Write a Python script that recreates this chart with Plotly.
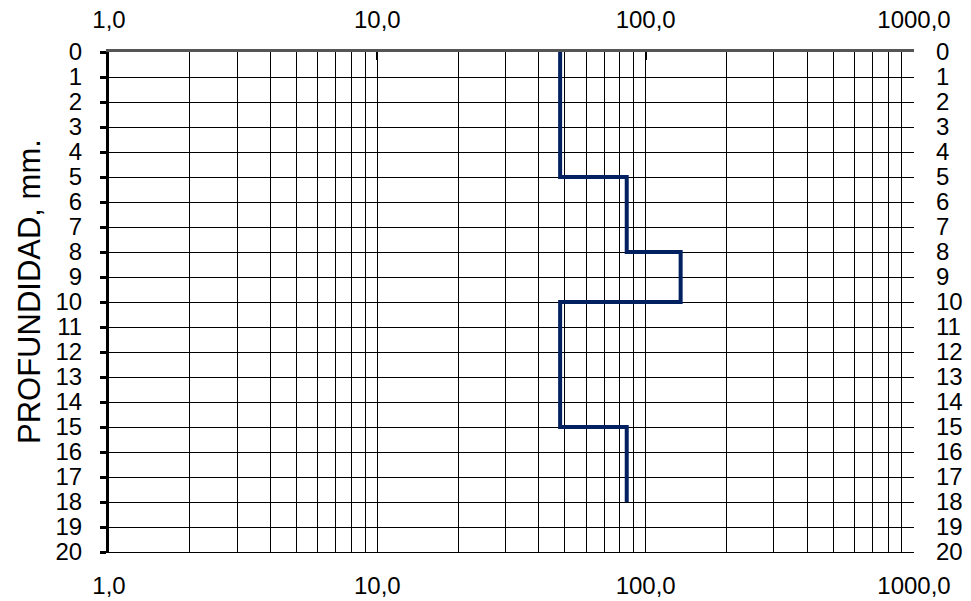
import plotly.graph_objects as go

# Depth profile (step line): value on log scale vs depth in mm
valor = [48, 48, 85, 85, 135, 135, 48, 48, 85, 85]
profundidad = [0, 5, 5, 8, 8, 10, 10, 15, 15, 18]

x_ticks = [1, 10, 100, 1000]
x_ticktext = ["1,0", "10,0", "100,0", "1000,0"]
y_ticks = list(range(0, 21))

# Log grid: 1..9 per decade
x_grid = [m * 10 ** d for d in range(3) for m in range(2, 10)] + [10, 100]

FONT = "Arial, Liberation Sans, sans-serif"
TICK_SIZE = 24

fig = go.Figure()

# helper traces so the overlay axes are rendered
fig.add_trace(go.Scatter(x=[1, 1000], y=[0, 20], xaxis="x3", yaxis="y",
                         mode="lines", line=dict(width=0), opacity=0,
                         hoverinfo="skip", showlegend=False))
fig.add_trace(go.Scatter(x=[1, 1000], y=[0, 20], xaxis="x2", yaxis="y2",
                         mode="lines", line=dict(width=0), opacity=0,
                         hoverinfo="skip", showlegend=False))

fig.add_trace(go.Scatter(
    x=valor, y=profundidad, xaxis="x", yaxis="y",
    mode="lines", line=dict(color="#002060", width=4),
    showlegend=False,
))

fig.update_layout(
    width=971, height=601,
    margin=dict(l=109, r=57, t=52, b=49),
    paper_bgcolor="white", plot_bgcolor="white",
    font=dict(family=FONT, color="black", size=TICK_SIZE),
    xaxis=dict(
        type="log", range=[0, 3], side="bottom", automargin=False,
        tickvals=x_ticks, ticktext=x_ticktext,
        showgrid=False, zeroline=False,
        showline=True, linecolor="black", linewidth=1,
        ticks="", ticklabelstandoff=12,
        tickfont=dict(size=TICK_SIZE),
    ),
    xaxis2=dict(
        type="log", range=[0, 3], side="top", overlaying="x", anchor="y",
        automargin=False,
        tickvals=x_ticks, ticktext=x_ticktext,
        showgrid=False, zeroline=False,
        showline=True, linecolor="#555555", linewidth=3,
        ticks="inside", ticklen=8, tickwidth=2, tickcolor="black",
        ticklabelstandoff=11,
        tickfont=dict(size=TICK_SIZE),
    ),
    xaxis3=dict(
        type="log", range=[0, 3], overlaying="x", anchor="y",
        automargin=False,
        tickvals=x_grid, showticklabels=False, ticks="",
        showgrid=True, gridcolor="black", gridwidth=1,
        showline=False, zeroline=False,
    ),
    yaxis=dict(
        range=[20, 0], tickvals=y_ticks, automargin=False,
        showgrid=True, gridcolor="black", gridwidth=1, zeroline=False,
        showline=True, linecolor="black", linewidth=3,
        ticks="outside", ticklen=6, tickwidth=3, tickcolor="black",
        ticklabelstandoff=13,
        tickfont=dict(size=TICK_SIZE),
    ),
    yaxis2=dict(
        range=[20, 0], tickvals=y_ticks, overlaying="y", side="right",
        anchor="x", automargin=False,
        showgrid=False, zeroline=False, showline=False, ticks="",
        ticklabelstandoff=21,
        tickfont=dict(size=TICK_SIZE),
    ),
    annotations=[dict(
        text="PROFUNDIDAD, mm.", textangle=-90,
        xref="paper", yref="paper",
        x=(29 - 109) / 805, y=0.52, xanchor="center", yanchor="middle",
        showarrow=False, font=dict(size=31, family=FONT, color="black"),
    )],
)

fig.write_html("out.html")
